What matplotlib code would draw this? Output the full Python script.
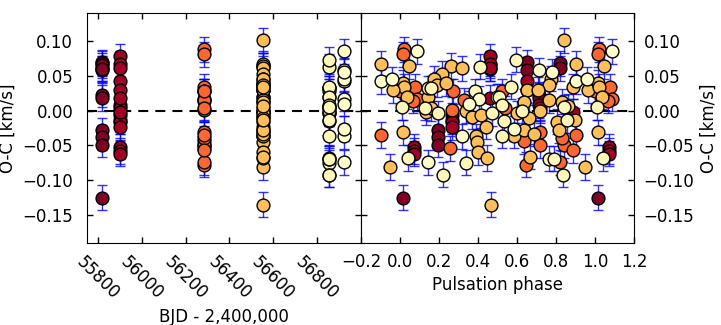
import numpy as np
import matplotlib
matplotlib.use('Agg')
import matplotlib.pyplot as plt

# -----------------------
# Data
# -----------------------
season_bjd = [55817, 55900, 56283, 56552, 56856, 56921]
oc_err = 0.018

# season 1
phase_s1 = [0.014, 0.197, 0.197, 0.197, 0.651, 0.651, 0.822, 0.822, 0.460, 0.460, 0.711, 0.711]
oc_s1 = [-0.125, -0.028, -0.038, -0.049, 0.069, 0.058, 0.068, 0.061, 0.065, 0.060, 0.023, 0.018]

# season 2
phase_s2 = [0.073, 0.073, 0.073, 0.265, 0.265, 0.265, 0.265, 0.460, 0.460, 0.460, 0.651,
            0.651, 0.711, 0.720, 0.889, 0.460]
oc_s2 = [-0.052, -0.058, -0.062, -0.007, -0.013, -0.016, -0.024, 0.078, 0.067, 0.061, 0.042,
         0.029, 0.008, 0.003, -0.002, 0.018]

# season 3
phase_s3 = [0.019, 0.014, 0.002, 0.077, 0.087, 0.065, 0.272, 0.328, 0.265, 0.255, 0.523,
            0.540, 0.720, 0.634, 0.720, 0.839, 0.648, 0.822, 0.831, 0.903, 0.889]
oc_s3 = [0.088, 0.081, 0.028, 0.034, 0.017, 0.014, 0.028, 0.015, 0.001, -0.054, 0.028,
         0.003, -0.031, -0.044, -0.050, -0.050, -0.078, -0.074, -0.040, -0.035, -0.057]

# season 4
phase_s4 = [0.045, 0.014, 0.019, 0.034, 0.142, 0.133, 0.017, 0.903, 0.963, 0.950, 0.260,
            0.320, 0.217, 0.174, 0.191, 0.234, 0.337, 0.368, 0.414, 0.439, 0.157, 0.388,
            0.397, 0.402, 0.448, 0.465, 0.842, 0.774, 0.762, 0.651, 0.706, 0.720, 0.634,
            0.762, 0.831, 0.600, 0.660, 0.805, 0.583, 0.634, 0.686, 0.814, 0.668, 0.889,
            0.860, 0.895]
oc_s4 = [0.064, 0.040, 0.034, 0.020, 0.019, -0.002, -0.031, 0.067, 0.029, -0.081, 0.064,
         0.061, 0.053, 0.046, 0.037, 0.039, 0.000, -0.009, -0.007, -0.023, 0.003, -0.037,
         -0.045, -0.060, -0.068, -0.135, 0.101, 0.046, 0.037, 0.030, 0.030, 0.000, 0.013,
         0.015, 0.013, -0.004, -0.010, -0.016, -0.036, -0.028, -0.033, -0.028, -0.066, 0.034,
         0.006, -0.014]

# season 5
phase_s5 = [0.142, 0.009, 0.130, 0.039, 0.409, 0.157, 0.383, 0.474, 0.499, 0.197, 0.337,
            0.221, 0.597, 0.569, 0.506, 0.523, 0.626, 0.532, 0.523, 0.762, 0.788, 0.835,
            0.839, 0.855]
oc_s5 = [0.032, 0.005, 0.004, -0.068, 0.063, 0.032, 0.028, -0.004, 0.020, -0.004, -0.075,
         -0.092, 0.073, 0.034, 0.020, 0.008, 0.000, -0.015, -0.036, -0.069, -0.069, -0.092,
         0.005, -0.014]

# season 6
phase_s6 = [0.087, 0.142, 0.902, 0.959, 0.405, 0.354, 0.320, 0.711, 0.780, 0.583]
oc_s6 = [0.085, -0.074, 0.042, 0.045, 0.017, 0.010, -0.037, 0.058, 0.056, -0.026]

phases = [phase_s1, phase_s2, phase_s3, phase_s4, phase_s5, phase_s6]
ocs = [oc_s1, oc_s2, oc_s3, oc_s4, oc_s5, oc_s6]

# -----------------------
# Figure
# -----------------------
plt.rcParams['font.family'] = 'DejaVu Sans'
plt.rcParams['font.size'] = 12
plt.rcParams['xtick.direction'] = 'in'
plt.rcParams['ytick.direction'] = 'in'

fig = plt.figure(figsize=(7.21, 3.25), dpi=100)
ax1 = fig.add_axes([0.1207, 0.2523, 0.3800, 0.7077])
ax2 = fig.add_axes([0.5007, 0.2523, 0.3786, 0.7077])

cmap = plt.get_cmap('YlOrRd_r')
norm = plt.Normalize(min(season_bjd), max(season_bjd))

for t, ph, oc in zip(season_bjd, phases, ocs):
    ph = np.array(ph)
    oc = np.array(oc)
    tt = np.full(len(oc), t, dtype=float)
    col = cmap(norm(t))

    # time panel
    ax1.errorbar(tt, oc, yerr=oc_err, fmt='none', ecolor='blue', elinewidth=1,
                 capsize=3.5, capthick=1, alpha=0.8, zorder=2)
    ax1.scatter(tt, oc, s=85, color=col, edgecolors='black', linewidths=1, zorder=3)

    # phase panel, repeat edges
    lo = ph < 0.1
    hi = ph >= 0.9
    ph_all = np.concatenate([ph, ph[lo] + 1, ph[hi] - 1])
    oc_all = np.concatenate([oc, oc[lo], oc[hi]])
    ax2.errorbar(ph_all, oc_all, yerr=oc_err, fmt='none', ecolor='blue', elinewidth=1,
                 capsize=3.5, capthick=1, alpha=0.8, zorder=2)
    ax2.scatter(ph_all, oc_all, s=85, color=col, edgecolors='black', linewidths=1, zorder=3)

for ax in (ax1, ax2):
    ax.axhline(0, color='black', lw=1.5, ls=(0, (4.8, 3.4)), zorder=1)
    ax.set_ylim(-0.19, 0.14)
    ax.set_yticks([-0.15, -0.10, -0.05, 0.00, 0.05, 0.10])
    ax.tick_params(top=True, right=True, length=4, width=1)

ax1.set_xlim(55750, 57000)
ax1.set_xticks([55800, 56000, 56200, 56400, 56600, 56800])
ax1.tick_params(axis='y', pad=10)
ax1.tick_params(axis='x', pad=7)
plt.setp(ax1.get_xticklabels(), rotation=-45)
ax1.set_ylabel('O-C [km/s]')
ax1.set_xlabel('BJD - 2,400,000')

ax2.set_xlim(-0.2, 1.2)
ax2.set_xticks([-0.2, 0.0, 0.2, 0.4, 0.6, 0.8, 1.0, 1.2])
ax2.tick_params(axis='y', left=True, right=True, labelleft=False, labelright=True, pad=7)
ax2.tick_params(axis='x', pad=7)
ax2.yaxis.set_label_position('right')
ax2.set_ylabel('O-C [km/s]')
ax2.set_xlabel('Pulsation phase')

fig.savefig('out.png', dpi=100, facecolor='white')
